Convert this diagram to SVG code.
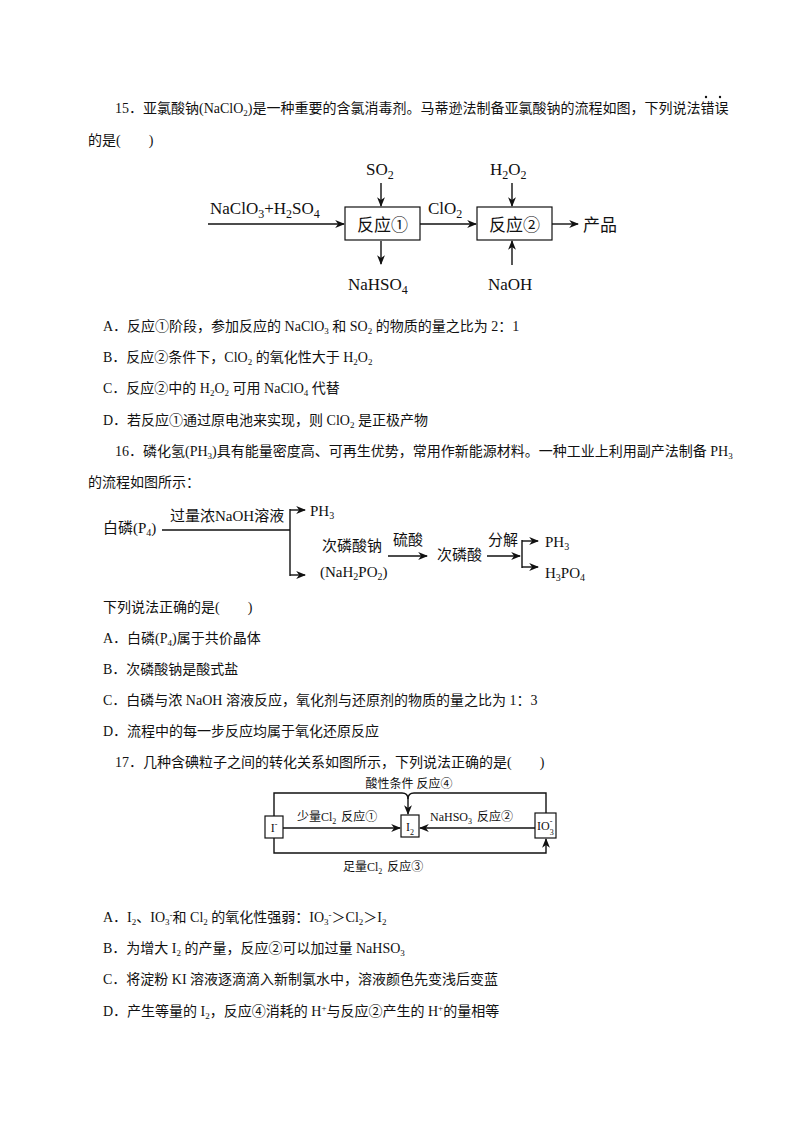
<svg xmlns="http://www.w3.org/2000/svg" width="800" height="1132" viewBox="0 0 800 1132">
<style>
text{font-family:"Liberation Serif","Noto Sans CJK SC",serif;font-size:14px;fill:#111}
.d{font-size:17px}
.m{font-size:15px}
.s{font-size:12px}
.l{stroke:#111;stroke-width:1.4;fill:none}
.b{stroke:#111;stroke-width:1.2;fill:#fff}
</style>
<defs><marker id="a" viewBox="0 0 10 10" refX="9" refY="5" markerWidth="7" markerHeight="7" orient="auto-start-reverse"><path d="M0,1 L10,5 L0,9 L3,5z" fill="#111"/></marker></defs>
<rect width="800" height="1132" fill="#fff"/>
<text x="115" y="113">15．亚氯酸钠(NaClO<tspan font-size="9" dy="3">2</tspan><tspan dy="-3">)是一种重要的含氯消毒剂。马蒂逊法制备亚氯酸钠的流程如图，下列说法错误</tspan></text>
<circle cx="706" cy="97" r="1.2" fill="#111"/><circle cx="720" cy="97" r="1.2" fill="#111"/>
<text x="88" y="145">的是(　　)</text>
<g id="connectors1">
<line class="l" x1="208" y1="224" x2="344" y2="224" marker-end="url(#a)"/>
<line class="l" x1="381" y1="183" x2="381" y2="206" marker-end="url(#a)"/>
<line class="l" x1="381" y1="241" x2="381" y2="264" marker-end="url(#a)"/>
<line class="l" x1="420" y1="224" x2="476" y2="224" marker-end="url(#a)"/>
<line class="l" x1="512" y1="183" x2="512" y2="206" marker-end="url(#a)"/>
<line class="l" x1="512" y1="265" x2="512" y2="241" marker-end="url(#a)"/>
<line class="l" x1="552" y1="224" x2="578" y2="224" marker-end="url(#a)"/>
</g>
<g id="r1"><rect class="b" x="345" y="207" width="75" height="33"/><text class="d" x="382.500" y="231" text-anchor="middle">反应①</text></g>
<g id="r2"><rect class="b" x="477" y="207" width="75" height="33"/><text class="d" x="514.500" y="231" text-anchor="middle">反应②</text></g>
<text class="d" x="210" y="214">NaClO<tspan font-size="12" dy="4">3</tspan><tspan dy="-4">+H</tspan><tspan font-size="12" dy="4">2</tspan><tspan dy="-4">SO</tspan><tspan font-size="12" dy="4">4</tspan></text>
<text class="d" x="366" y="175">SO<tspan font-size="12" dy="4">2</tspan></text>
<text class="d" x="348" y="290">NaHSO<tspan font-size="12" dy="4">4</tspan></text>
<text class="d" x="428" y="214">ClO<tspan font-size="12" dy="4">2</tspan></text>
<text class="d" x="490" y="175">H<tspan font-size="12" dy="4">2</tspan><tspan dy="-4">O</tspan><tspan font-size="12" dy="4">2</tspan></text>
<text class="d" x="488" y="290">NaOH</text>
<text class="d" x="583" y="231">产品</text>
<text x="103" y="331">A．反应①阶段，参加反应的 NaClO<tspan font-size="9" dy="3">3</tspan><tspan dy="-3"> 和 SO</tspan><tspan font-size="9" dy="3">2</tspan><tspan dy="-3"> 的物质的量之比为 2：1</tspan></text>
<text x="103" y="362">B．反应②条件下，ClO<tspan font-size="9" dy="3">2</tspan><tspan dy="-3"> 的氧化性大于 H</tspan><tspan font-size="9" dy="3">2</tspan><tspan dy="-3">O</tspan><tspan font-size="9" dy="3">2</tspan></text>
<text x="103" y="393">C．反应②中的 H<tspan font-size="9" dy="3">2</tspan><tspan dy="-3">O</tspan><tspan font-size="9" dy="3">2</tspan><tspan dy="-3"> 可用 NaClO</tspan><tspan font-size="9" dy="3">4</tspan><tspan dy="-3"> 代替</tspan></text>
<text x="103" y="425">D．若反应①通过原电池来实现，则 ClO<tspan font-size="9" dy="3">2</tspan><tspan dy="-3"> 是正极产物</tspan></text>
<text x="115" y="456">16．磷化氢(PH<tspan font-size="9" dy="3">3</tspan><tspan dy="-3">)具有能量密度高、可再生优势，常用作新能源材料。一种工业上利用副产法制备 PH</tspan><tspan font-size="9" dy="3">3</tspan></text>
<text x="88" y="487">的流程如图所示：</text>
<g id="connectors2">
<polyline class="l" points="162,530 290,530"/>
<line class="l" x1="290" y1="509" x2="290" y2="576"/>
<line class="l" x1="290" y1="510" x2="305" y2="510" marker-end="url(#a)"/>
<line class="l" x1="290" y1="575" x2="305" y2="575" marker-end="url(#a)"/>
<line class="l" x1="388" y1="556" x2="427" y2="556" marker-end="url(#a)"/>
<line class="l" x1="487" y1="556" x2="520" y2="556" marker-end="url(#a)"/>
<line class="l" x1="522" y1="540" x2="522" y2="568"/>
<line class="l" x1="522" y1="541" x2="538" y2="541" marker-end="url(#a)"/>
<line class="l" x1="522" y1="567" x2="538" y2="567" marker-end="url(#a)"/>
</g>
<text class="m" x="103" y="533">白磷(P<tspan font-size="10" dy="3">4</tspan><tspan dy="-3">)</tspan></text>
<text class="m" x="170" y="521">过量浓NaOH溶液</text>
<text class="m" x="310" y="516">PH<tspan font-size="10" dy="3">3</tspan></text>
<text class="m" x="322" y="551">次磷酸钠</text>
<text class="m" x="320" y="577">(NaH<tspan font-size="10" dy="3">2</tspan><tspan dy="-3">PO</tspan><tspan font-size="10" dy="3">2</tspan><tspan dy="-3">)</tspan></text>
<text class="m" x="393" y="545">硫酸</text>
<text class="m" x="437" y="560">次磷酸</text>
<text class="m" x="488" y="545">分解</text>
<text class="m" x="545" y="547">PH<tspan font-size="10" dy="3">3</tspan></text>
<text class="m" x="545" y="578">H<tspan font-size="10" dy="3">3</tspan><tspan dy="-3">PO</tspan><tspan font-size="10" dy="3">4</tspan></text>
<text x="103" y="612">下列说法正确的是(　　)</text>
<text x="103" y="643">A．白磷(P<tspan font-size="9" dy="3">4</tspan><tspan dy="-3">)属于共价晶体</tspan></text>
<text x="103" y="674">B．次磷酸钠是酸式盐</text>
<text x="103" y="705">C．白磷与浓 NaOH 溶液反应，氧化剂与还原剂的物质的量之比为 1：3</text>
<text x="103" y="736">D．流程中的每一步反应均属于氧化还原反应</text>
<text x="115" y="767">17．几种含碘粒子之间的转化关系如图所示，下列说法正确的是(　　)</text>
<g id="connectors3">
<path class="l" d="M274,816 V793 H402 Q408,793 408,799 V814" marker-end="url(#a)"/>
<path class="l" d="M546,813 V793 H414 Q408,793 408,799"/>
<line class="l" x1="283" y1="828" x2="400" y2="828" marker-end="url(#a)"/>
<line class="l" x1="535" y1="828" x2="420" y2="828" marker-end="url(#a)"/>
<path class="l" d="M274,838 V853 H546 V839" marker-end="url(#a)"/>
</g>
<g id="iminus"><rect class="b" x="265" y="816" width="18" height="22"/><text class="s" x="274" y="832" text-anchor="middle">I<tspan font-size="8" dy="-5">-</tspan></text></g>
<g id="i2"><rect class="b" x="401" y="815" width="18" height="22"/><text class="s" x="406" y="831">I<tspan font-size="8" dy="4">2</tspan></text></g>
<g id="io3"><rect class="b" x="535" y="813" width="21" height="25"/><text class="s" x="537" y="830">IO<tspan font-size="8" dy="5">3</tspan><tspan font-size="8" dx="-4" dy="-11">-</tspan></text></g>
<text class="s" x="409" y="788" text-anchor="middle">酸性条件  反应④</text>
<text class="s" x="297" y="821">少量Cl<tspan font-size="8" dy="3">2</tspan><tspan dy="-3" dx="5">反应①</tspan></text>
<text class="s" x="430" y="821">NaHSO<tspan font-size="8" dy="3">3</tspan><tspan dy="-3" dx="5">反应②</tspan></text>
<text class="s" x="343" y="871">足量Cl<tspan font-size="8" dy="3">2</tspan><tspan dy="-3" dx="5">反应③</tspan></text>
<text x="103" y="922">A．I<tspan font-size="9" dy="3">2</tspan><tspan dy="-3">、IO</tspan><tspan font-size="9" dy="3">3</tspan><tspan font-size="9" dy="-7">-</tspan><tspan dy="4">和 Cl</tspan><tspan font-size="9" dy="3">2</tspan><tspan dy="-3"> 的氧化性强弱：IO</tspan><tspan font-size="9" dy="3">3</tspan><tspan font-size="9" dy="-7">-</tspan><tspan dy="4">＞Cl</tspan><tspan font-size="9" dy="3">2</tspan><tspan dy="-3">＞I</tspan><tspan font-size="9" dy="3">2</tspan></text>
<text x="103" y="953">B．为增大 I<tspan font-size="9" dy="3">2</tspan><tspan dy="-3"> 的产量，反应②可以加过量 NaHSO</tspan><tspan font-size="9" dy="3">3</tspan></text>
<text x="103" y="984">C．将淀粉 KI 溶液逐滴滴入新制氯水中，溶液颜色先变浅后变蓝</text>
<text x="103" y="1016">D．产生等量的 I<tspan font-size="9" dy="3">2</tspan><tspan dy="-3">，反应④消耗的 H</tspan><tspan font-size="9" dy="-5">+</tspan><tspan dy="5">与反应②产生的 H</tspan><tspan font-size="9" dy="-5">+</tspan><tspan dy="5">的量相等</tspan></text>
</svg>
